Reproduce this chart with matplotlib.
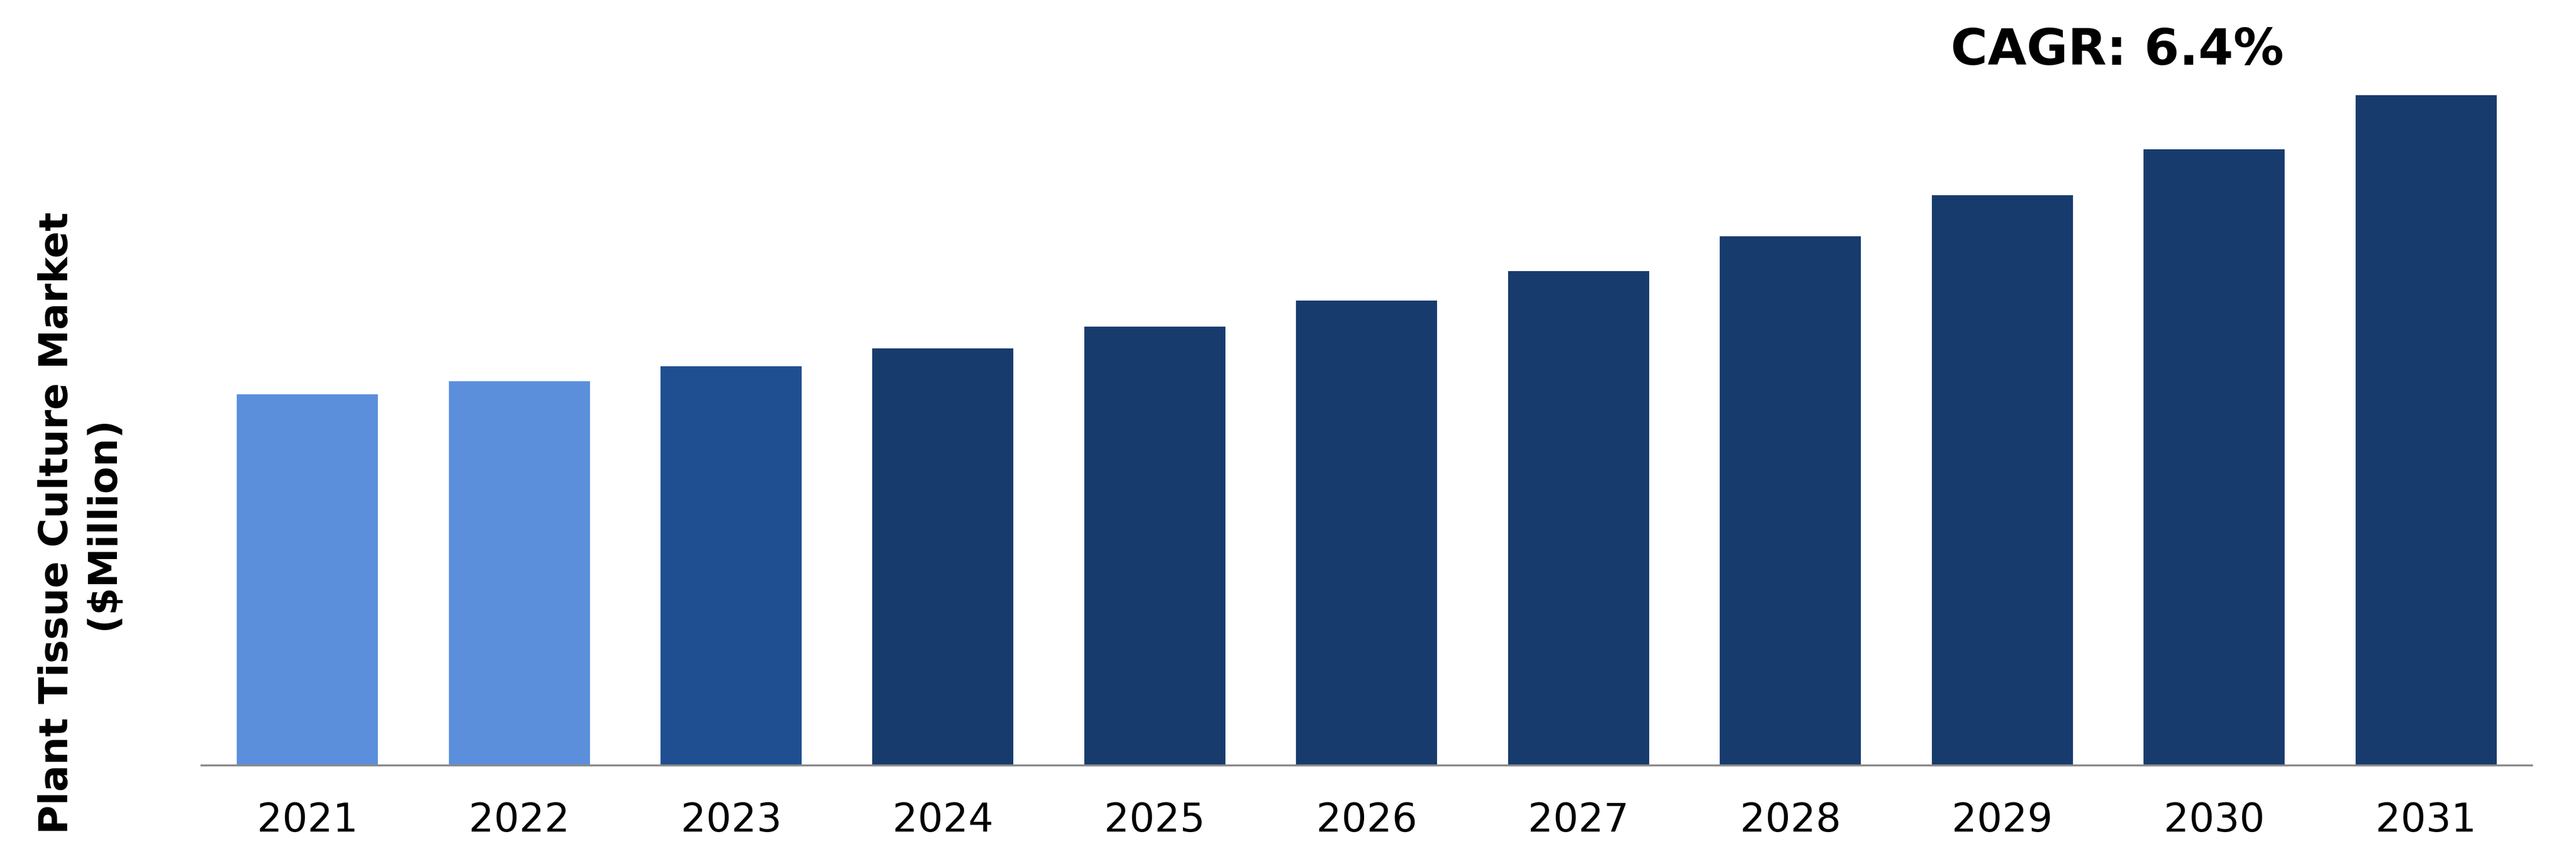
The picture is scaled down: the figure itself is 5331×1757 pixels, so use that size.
import matplotlib
matplotlib.use("Agg")
import matplotlib.pyplot as plt

years = ["2021", "2022", "2023", "2024", "2025", "2026", "2027", "2028", "2029", "2030", "2031"]
values = [226, 234, 243, 254, 267, 283, 301, 322, 347, 375, 408]
colors = ["#5B8FDC", "#5B8FDC", "#1F4F91", "#183B6E", "#183B6E", "#183B6E",
          "#183B6E", "#183B6E", "#183B6E", "#183B6E", "#183B6E"]
ylabel = "Plant Tissue Culture Market\n($Million)"
cagr_text = "CAGR: 6.4%"

plt.rcParams['font.family'] = ['DejaVu Sans']

fig = plt.figure(figsize=(53.31, 17.57), dpi=100)
ax = fig.add_axes([0.0782, 0.0985, 0.9047, 0.9015])
x = range(len(years))
ax.bar(x, values, width=0.666, color=colors)
ax.set_xlim(-0.5, len(years) - 0.5)
ax.set_ylim(0, 466)
ax.set_xticks(list(x))
ax.set_xticklabels(years, fontsize=59)
ax.tick_params(axis='x', length=0, pad=54)
ax.set_yticks([])
for s in ['top', 'right', 'left']:
    ax.spines[s].set_visible(False)
ax.spines['bottom'].set_color('#8A8A8A')
ax.spines['bottom'].set_linewidth(2.9)

fig.text(0.031, 0.384, ylabel, rotation=90, ha='center', va='center',
         multialignment='center', fontsize=59, fontweight='bold', linespacing=1.27)
fig.text(0.822, 0.940, cagr_text, ha='center', va='center',
         fontsize=75, fontweight='bold')

fig.savefig("out.png", dpi=100)
